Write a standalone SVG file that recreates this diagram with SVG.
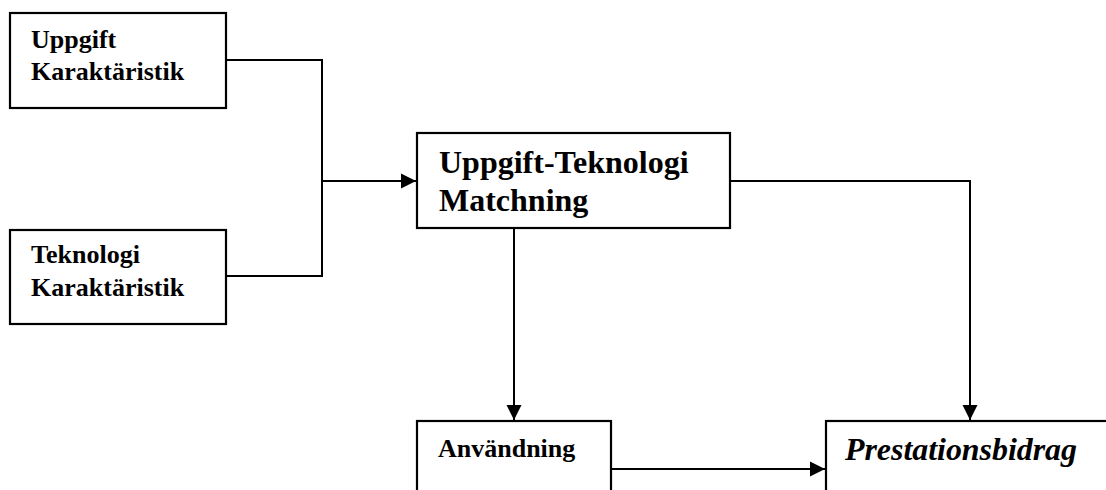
<svg xmlns="http://www.w3.org/2000/svg" width="1106" height="490" viewBox="0 0 1106 490">
<style>
.box{fill:#fff;stroke:#000;stroke-width:2.2}
.t{font-family:"Liberation Serif","Times New Roman",serif;font-weight:bold;fill:#000}
.s{font-size:26px}
.l{font-size:32px}
.c{fill:none;stroke:#000;stroke-width:2}
</style>
<defs>
<marker id="ah" markerUnits="userSpaceOnUse" markerWidth="16" markerHeight="16" refX="15" refY="8" orient="auto">
<path d="M0,0.5 L15,8 L0,15.5 Z" fill="#000"/>
</marker>
</defs>
<rect width="1106" height="490" fill="#fff"/>
<g id="connectors">
<path class="c" d="M226,60 H322 V276 H226"/>
<path class="c" d="M322,181 H416" marker-end="url(#ah)"/>
<path class="c" d="M730,181 H970 V420" marker-end="url(#ah)"/>
<path class="c" d="M514,228 V420" marker-end="url(#ah)"/>
<path class="c" d="M611,469 H825" marker-end="url(#ah)"/>
</g>
<g id="uppgift">
<rect class="box" x="10" y="13" width="216" height="95"/>
<text class="t s" x="31" y="48">Uppgift</text>
<text class="t s" x="31" y="80">Karaktäristik</text>
</g>
<g id="teknologi">
<rect class="box" x="10" y="230" width="216" height="94"/>
<text class="t s" x="31" y="263">Teknologi</text>
<text class="t s" x="31" y="296">Karaktäristik</text>
</g>
<g id="matchning">
<rect class="box" x="417" y="133" width="313" height="95"/>
<text class="t l" x="439" y="173">Uppgift-Teknologi</text>
<text class="t l" x="439" y="211">Matchning</text>
</g>
<g id="anvandning">
<rect class="box" x="417" y="421" width="194" height="80"/>
<text class="t s" x="438" y="457">Användning</text>
</g>
<g id="prestation">
<rect class="box" x="826" y="421" width="300" height="80"/>
<text class="t" x="845" y="460" font-size="31" font-style="italic" textLength="232" lengthAdjust="spacingAndGlyphs">Prestationsbidrag</text>
</g>
</svg>
